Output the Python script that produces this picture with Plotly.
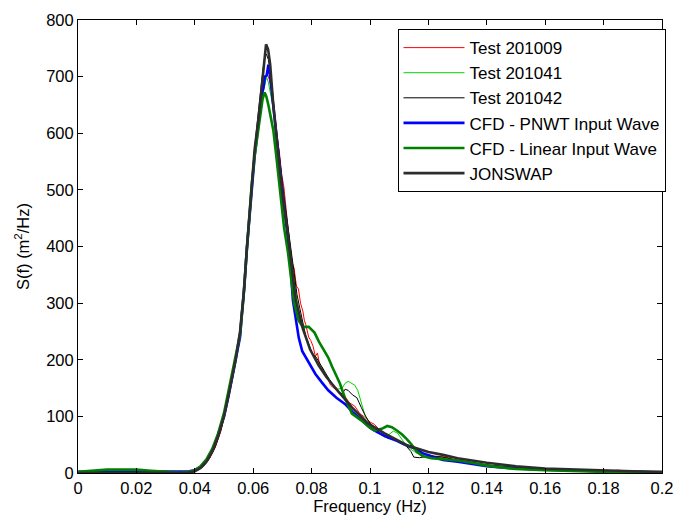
import plotly.graph_objects as go

# ---------------- data ----------------
# Test 201009 (red, thin)
f_t09 = [0, 0.02, 0.036, 0.039, 0.041, 0.043, 0.045, 0.047, 0.049, 0.051, 0.053, 0.055, 0.0565, 0.0575,
         0.0585, 0.0595, 0.0605, 0.0615, 0.0625, 0.0633, 0.064, 0.0648, 0.0655, 0.0662, 0.067, 0.068, 0.069,
         0.0697, 0.0705, 0.0715, 0.0725, 0.0733, 0.074, 0.0748, 0.0755, 0.0762, 0.077, 0.0775, 0.078, 0.079,
         0.0797, 0.0805, 0.0813, 0.082, 0.0828, 0.0837, 0.0845, 0.0854, 0.0865, 0.0881, 0.0895, 0.0914, 0.093,
         0.0948, 0.0965, 0.0981, 0.1, 0.1015, 0.104, 0.107, 0.11, 0.113, 0.116, 0.119, 0.122, 0.126, 0.13,
         0.135, 0.14, 0.145, 0.15, 0.16, 0.17, 0.18, 0.185, 0.19, 0.2]
s_t09 = [1, 1, 1, 2, 5, 12, 25, 45, 75, 120, 170, 225, 290, 360,
         440, 505, 560, 610, 650, 675, 690, 705, 695, 680, 650, 600, 565,
         530, 505, 450, 405, 372, 362, 330, 325, 300, 286, 270, 262, 240,
         234, 224, 206, 212, 190, 186, 172, 168, 155, 148, 140, 135, 124,
         118, 105, 99, 90, 86, 72, 62, 55, 48, 40, 33, 30, 28, 22,
         18, 14, 11, 9, 6, 4, 3, 5, 2, 1]

# Test 201041 (bright green, thin)
f_t41 = [0, 0.036, 0.039, 0.041, 0.043, 0.045, 0.047, 0.049, 0.051, 0.053, 0.055, 0.0565, 0.0575, 0.0585,
         0.0595, 0.0605, 0.0615, 0.0625, 0.0633, 0.064, 0.0645, 0.0652, 0.066, 0.067, 0.068, 0.069, 0.07,
         0.071, 0.072, 0.073, 0.074, 0.075, 0.076, 0.077, 0.078, 0.079, 0.08, 0.0815, 0.083, 0.0845, 0.086,
         0.0875, 0.089, 0.0905, 0.0914, 0.0925, 0.0938, 0.0948, 0.0958, 0.097, 0.0981, 0.0995, 0.101, 0.103,
         0.105, 0.1065, 0.108, 0.1095, 0.111, 0.1125, 0.114, 0.116, 0.12, 0.125, 0.13, 0.14, 0.15, 0.16,
         0.17, 0.18, 0.19, 0.2]
s_t41 = [1, 1, 2, 5, 13, 27, 48, 78, 122, 175, 228, 295, 365, 440,
         505, 565, 610, 650, 672, 685, 700, 690, 670, 640, 590, 550, 505,
         470, 425, 385, 345, 305, 278, 258, 240, 228, 215, 200, 188, 176, 165,
         155, 148, 150, 158, 162, 158, 155, 146, 123, 105, 90, 80, 70,
         63, 68, 74, 70, 60, 48, 42, 35, 30, 26, 22, 14, 9, 6,
         4, 3, 2, 1]

# Test 201042 (black, thin)
f_t42 = [0, 0.036, 0.039, 0.041, 0.043, 0.045, 0.047, 0.049, 0.051, 0.053, 0.055, 0.0565, 0.0575, 0.0585,
         0.0595, 0.0605, 0.0615, 0.0625, 0.0633, 0.064, 0.0645, 0.0652, 0.066, 0.067, 0.068, 0.069, 0.07,
         0.071, 0.072, 0.073, 0.074, 0.075, 0.076, 0.077, 0.078, 0.079, 0.08, 0.0815, 0.083, 0.0845, 0.086,
         0.0875, 0.089, 0.0905, 0.0915, 0.0925, 0.094, 0.0955, 0.097, 0.0985, 0.1, 0.102, 0.104, 0.106,
         0.108, 0.11, 0.112, 0.114, 0.115, 0.117, 0.12, 0.125, 0.13, 0.14, 0.15, 0.16, 0.17, 0.18, 0.19, 0.2]
s_t42 = [1, 1, 2, 5, 12, 26, 46, 77, 120, 172, 228, 295, 365, 445,
         515, 575, 625, 675, 710, 735, 740, 730, 700, 650, 600, 555, 510,
         470, 430, 385, 348, 315, 290, 265, 242, 228, 212, 205, 192, 178, 166,
         153, 143, 140, 148, 146, 138, 133, 116, 100, 88, 78, 68, 62,
         60, 56, 50, 38, 28, 27, 30, 28, 22, 14, 10, 7, 5, 3, 2, 1]

# CFD - PNWT Input Wave (blue, thick)
f_pnwt = [0, 0.01, 0.02, 0.03, 0.036, 0.038, 0.040, 0.042, 0.044, 0.046, 0.0475, 0.049, 0.050, 0.0515,
          0.053, 0.0545, 0.0555, 0.0562, 0.057, 0.0578, 0.0585, 0.059, 0.0598, 0.0605, 0.0612, 0.062,
          0.0628, 0.0635, 0.064, 0.0646, 0.0652, 0.0658, 0.0665, 0.0675, 0.069, 0.0705, 0.072, 0.0728,
          0.0736, 0.0746, 0.0756, 0.0768, 0.078, 0.0797, 0.0813, 0.0835, 0.0857, 0.0885, 0.0914, 0.094,
          0.0971, 0.1, 0.1025, 0.106, 0.1092, 0.112, 0.115, 0.118, 0.122, 0.125, 0.13, 0.135, 0.14, 0.145,
          0.15, 0.16, 0.17, 0.18, 0.19, 0.2]
s_pnwt = [2, 2, 2, 2, 2, 3, 5, 11, 22, 40, 60, 82, 100, 135,
          172, 215, 240, 285, 330, 395, 440, 470, 520, 560, 590, 630,
          665, 680, 700, 702, 721, 700, 665, 615, 545, 475, 410, 365,
          305, 270, 239, 215, 204, 188, 175, 160, 146, 133, 122, 108,
          93, 80, 72, 63, 57, 50, 44, 35, 28, 23, 20, 16, 12, 10,
          8, 6, 4, 3, 2, 1]

# CFD - Linear Input Wave (dark green, thick)
f_lin = [0, 0.003, 0.006, 0.01, 0.015, 0.02, 0.025, 0.03, 0.035, 0.038, 0.040, 0.042, 0.044, 0.046, 0.048,
         0.050, 0.052, 0.054, 0.0555, 0.0565, 0.0575, 0.0585, 0.0595, 0.0605, 0.0615, 0.0625, 0.0632,
         0.0639, 0.0645, 0.0652, 0.0660, 0.0669, 0.0679, 0.0689, 0.0698, 0.0706, 0.0719, 0.073, 0.074,
         0.0755, 0.077, 0.079, 0.081, 0.0825, 0.0837, 0.0857, 0.087, 0.0881, 0.0897, 0.0914, 0.0938, 0.097,
         0.0995, 0.1015, 0.104, 0.1059, 0.1075, 0.1092, 0.111, 0.1126, 0.1143, 0.116, 0.118, 0.121, 0.125,
         0.13, 0.135, 0.14, 0.145, 0.15, 0.16, 0.17, 0.18, 0.19, 0.2]
s_lin = [2, 3, 5, 6, 6, 6, 4, 2, 1, 2, 5, 12, 24, 43, 70,
         106, 155, 205, 245, 300, 370, 445, 510, 560, 600, 640, 660,
         672, 665, 650, 630, 605, 560, 514, 470, 432, 390, 345, 300,
         270, 258, 258, 248, 232, 221, 204, 188, 175, 158, 133, 105, 93,
         82, 75, 78, 83, 81, 75, 68, 60, 50, 38, 30, 26, 24,
         22, 18, 13, 10, 7, 5, 3, 2, 2, 1]

# JONSWAP (dark, thick)
f_jon = [0, 0.02, 0.036, 0.038, 0.040, 0.042, 0.044, 0.046, 0.048, 0.050, 0.052, 0.054, 0.0555, 0.0568,
         0.0578, 0.0588, 0.0605, 0.0618, 0.0629, 0.0637, 0.0644, 0.0651, 0.0658, 0.0669, 0.0686, 0.0702,
         0.0719, 0.0736, 0.0746, 0.077, 0.0795, 0.0824, 0.085, 0.088, 0.0938, 0.0992, 0.105, 0.1126, 0.12,
         0.125, 0.13, 0.14, 0.15, 0.16, 0.17, 0.18, 0.19, 0.2]
s_jon = [0, 0, 0, 1, 3, 9, 20, 38, 65, 100, 148, 200, 250, 320,
         395, 467, 572, 625, 680, 728, 757, 748, 722, 649, 561, 484,
         421, 348, 304, 255, 218, 190, 170, 151, 116, 88, 70, 49, 37,
         32, 26, 18, 12, 8, 6, 4, 3, 2]

x_ticks = [0, 0.02, 0.04, 0.06, 0.08, 0.1, 0.12, 0.14, 0.16, 0.18, 0.2]
x_tick_labels = ["0", "0.02", "0.04", "0.06", "0.08", "0.1", "0.12", "0.14", "0.16", "0.18", "0.2"]
y_ticks = [0, 100, 200, 300, 400, 500, 600, 700, 800]

series = [
    ("Test 201009", f_t09, s_t09, "rgb(255,0,0)", 1),
    ("Test 201041", f_t41, s_t41, "rgb(0,210,0)", 1),
    ("Test 201042", f_t42, s_t42, "rgb(0,0,0)", 1),
    ("CFD - PNWT Input Wave", f_pnwt, s_pnwt, "rgb(0,0,255)", 2.6),
    ("CFD - Linear Input Wave", f_lin, s_lin, "rgb(0,128,0)", 2.6),
    ("JONSWAP", f_jon, s_jon, "rgb(45,45,45)", 2.6),
]

FONT = "Liberation Sans, Arial, sans-serif"
FS = 16.5
fig = go.Figure()
for i, (name, fx, sy, col, w) in enumerate(series):
    fig.add_trace(go.Scatter(x=fx, y=sy, mode="lines", name=name,
                             line=dict(color=col, width=w)))

fig.update_layout(
    width=684, height=525,
    margin=dict(l=78, r=11, t=17, b=52),
    paper_bgcolor="white", plot_bgcolor="white",
    font=dict(family=FONT, size=FS, color="black"),
    showlegend=True,
    legend=dict(x=1.006, y=0.980, xanchor="right", yanchor="top",
                bgcolor="white", bordercolor="black", borderwidth=1,
                font=dict(family=FONT, size=17, color="black"),
                itemwidth=61),
    xaxis=dict(range=[0, 0.2], tickvals=x_ticks, ticktext=x_tick_labels,
               showline=True, linecolor="black", linewidth=1, mirror="ticks",
               ticks="inside", ticklen=5, tickcolor="black", showgrid=False, zeroline=False,
               tickfont=dict(size=FS),
               title=dict(text="Frequency (Hz)", standoff=4, font=dict(size=FS))),
    yaxis=dict(range=[0, 800], tickvals=y_ticks,
               showline=True, linecolor="black", linewidth=1, mirror="ticks",
               ticks="inside", ticklen=5, tickcolor="black", showgrid=False, zeroline=False,
               tickfont=dict(size=FS),
               title=dict(text="S(f) (m<sup>2</sup>/Hz)", standoff=12, font=dict(size=FS))),
)

fig.write_html("out.html")
